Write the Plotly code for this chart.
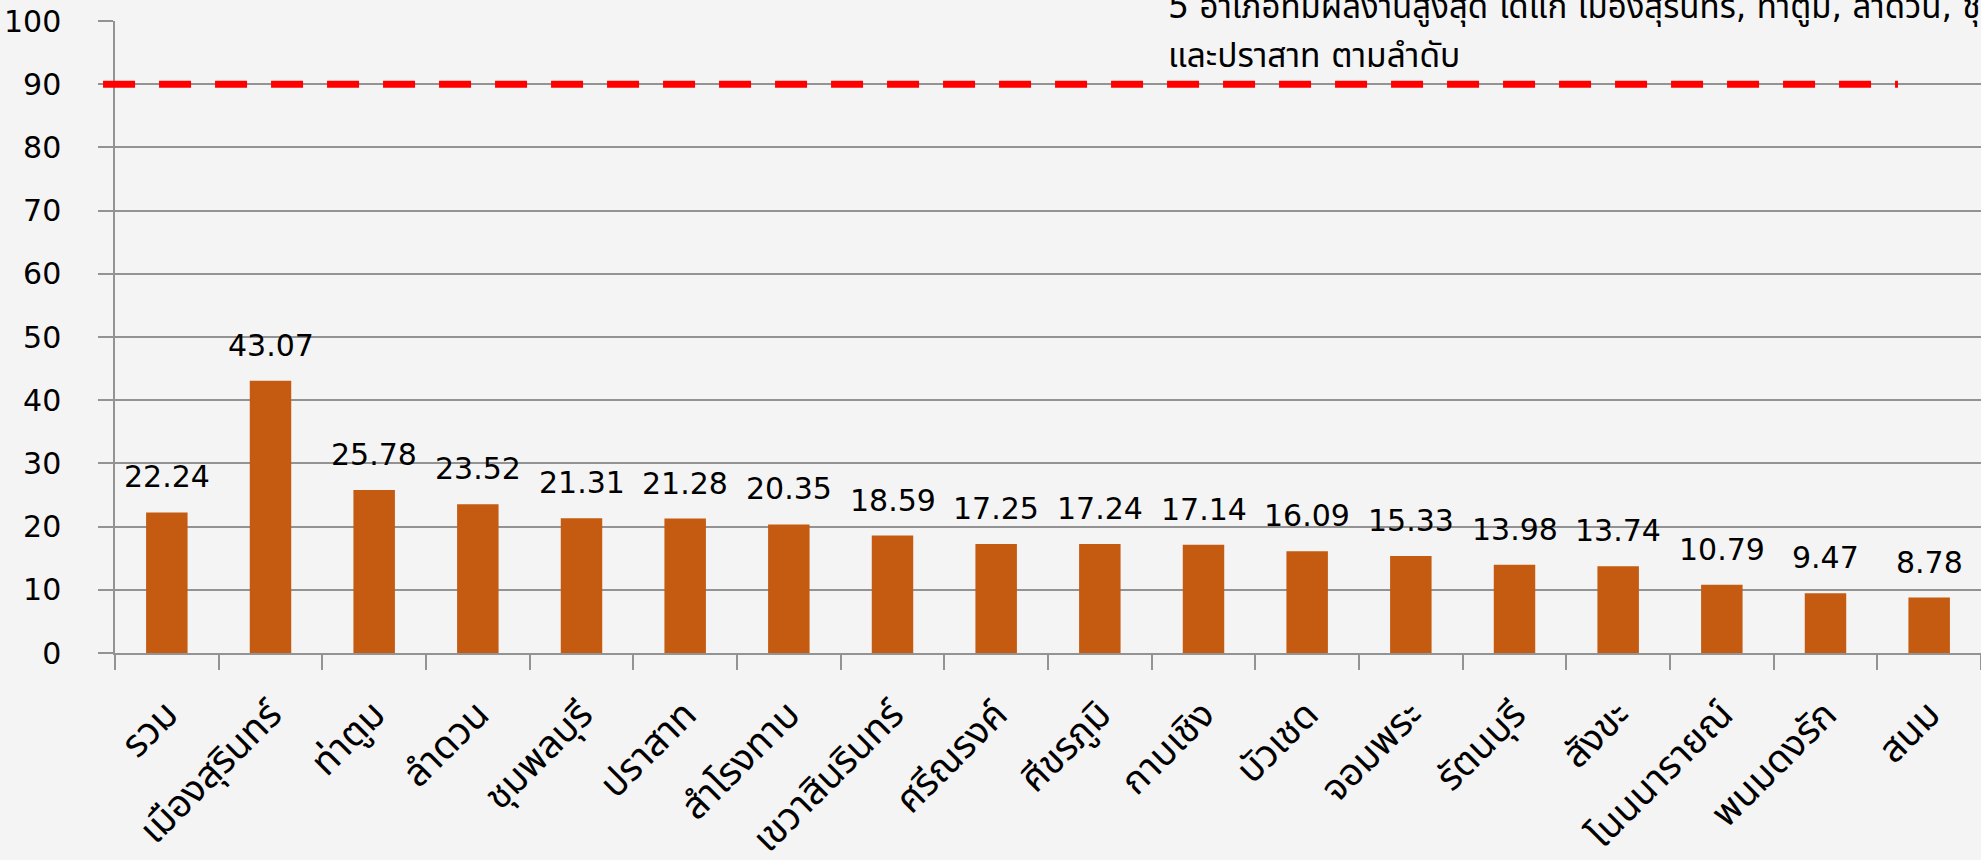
import plotly.graph_objects as go

categories = ["รวม", "เมืองสุรินทร์", "ท่าตูม", "ลำดวน", "ชุมพลบุรี", "ปราสาท", "สำโรงทาบ",
              "เขวาสินรินทร์", "ศรีณรงค์", "ศีขรภูมิ", "กาบเชิง", "บัวเชด", "จอมพระ",
              "รัตนบุรี", "สังขะ", "โนนนารายณ์", "พนมดงรัก", "สนม"]
values = [22.24, 43.07, 25.78, 23.52, 21.31, 21.28, 20.35, 18.59, 17.25, 17.24, 17.14,
          16.09, 15.33, 13.98, 13.74, 10.79, 9.47, 8.78]
target = 90
note_line1 = "5 อำเภอที่มีผลงานสูงสุด ได้แก่ เมืองสุรินทร์, ท่าตูม, ลำดวน, ชุมพลบุรี"
note_line2 = "และปราสาท ตามลำดับ"

FONT = "DejaVu Sans, Noto Sans Thai, Noto Sans, sans-serif"
GRID = "#939393"
BG = "#F4F4F4"

fig = go.Figure()
fig.add_trace(go.Bar(x=categories, y=values, marker=dict(color="#C55A11", line=dict(width=0)),
                     width=0.4, hoverinfo="skip"))

for c, v in zip(categories, values):
    fig.add_annotation(x=c, y=v, text=f"{v:.2f}", showarrow=False, yanchor="bottom",
                       yshift=16, font=dict(size=30, color="black", family=FONT))

fig.add_shape(type="line", xref="paper", yref="y", x0=-0.0064, x1=0.9555, y0=target, y1=target,
              line=dict(color="#FF0000", width=7, dash="32px,24px"), layer="above")

fig.add_annotation(xref="paper", yref="paper", x=0.5633, y=1.0247, xanchor="left", yanchor="middle",
                   text=note_line1, showarrow=False, font=dict(size=33, color="black", family=FONT))
fig.add_annotation(xref="paper", yref="paper", x=0.5633, y=0.946, xanchor="left", yanchor="middle",
                   text=note_line2, showarrow=False, font=dict(size=33.5, color="black", family=FONT))

fig.update_layout(
    width=1981, height=860,
    margin=dict(l=115, r=0, t=21, b=204),
    paper_bgcolor=BG, plot_bgcolor="rgba(0,0,0,0)",
    showlegend=False,
    font=dict(family=FONT, size=29, color="black"),
    xaxis=dict(showgrid=False, showline=True, linecolor=GRID, linewidth=1.5,
               ticks="outside", ticklen=15, tickcolor=GRID, tickwidth=1.5,
               tickson="boundaries", tickangle=-45, tickfont=dict(size=38),
               ticklabelstandoff=22,
               range=[-0.5, len(categories) - 0.5]),
    yaxis=dict(range=[0, 100], dtick=10, showgrid=True, gridcolor=GRID, gridwidth=1.5,
               showline=True, linecolor=GRID, linewidth=1.5,
               ticks="outside", ticklen=15, tickcolor=GRID, tickwidth=1.5,
               ticklabelstandoff=31, tickfont=dict(size=30), zeroline=False),
)

fig.write_html("out.html", config={"displayModeBar": False},
               post_script="document.body.style.margin='0';document.body.style.background='%s';" % BG)
